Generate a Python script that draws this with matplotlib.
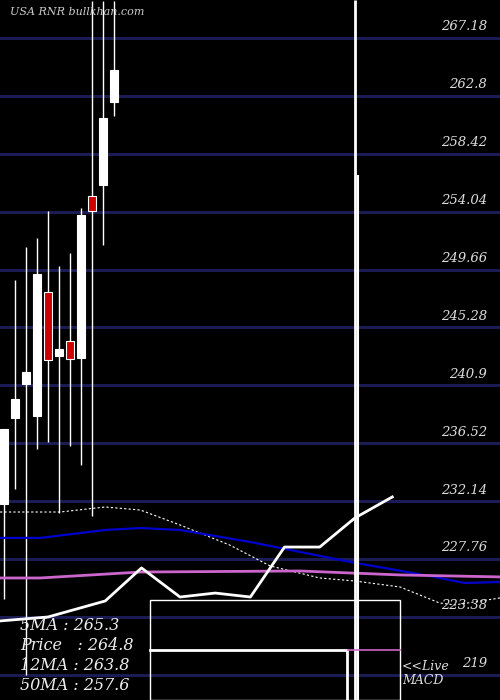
import matplotlib
matplotlib.use("Agg")
import matplotlib.pyplot as plt
from matplotlib.patches import Rectangle

levels = [267.18, 262.8, 258.42, 254.04, 249.66, 245.28, 240.9, 236.52, 232.14, 227.76, 223.38, 219]
opens  = [231.93, 238.43, 241.00, 238.58, 247.96, 243.12, 244.26, 242.97, 255.23, 256.06, 262.34]
closes = [237.60, 239.87, 241.91, 249.33, 242.82, 243.65, 242.90, 253.79, 254.09, 261.13, 264.76]
highs  = [237.60, 248.87, 251.37, 252.05, 254.09, 249.93, 250.91, 254.32, 270.0, 270.0, 270.0]
lows   = [224.74, 233.06, 218.99, 236.09, 236.62, 231.25, 236.31, 234.88, 231.02, 251.52, 261.28]

dot_x = [-0.36, 5.1, 9.2, 12.4, 16, 20.5, 24.2, 28.7, 31.9, 36, 39.6, 41, 45.1]
dot_y = [231.32, 231.32, 231.70, 231.47, 230.34, 228.83, 227.24, 226.33, 226.10, 225.65, 224.44, 224.29, 224.82]
blue_x = [-0.36, 3.3, 9.2, 12.4, 16, 22.4, 31.5, 38.7, 41.9, 45.1]
blue_y = [229.36, 229.36, 229.96, 230.11, 229.96, 229.05, 227.54, 226.48, 225.95, 226.03]
mag_x = [-0.36, 3.3, 12.4, 26.9, 36, 45.1]
mag_y = [226.33, 226.33, 226.78, 226.86, 226.56, 226.41]
wht_x = [-0.36, 4, 9.2, 12.5, 16, 19.2, 22.4, 25.5, 28.7, 31.9, 35.3]
wht_y = [223.08, 223.38, 224.59, 227.09, 224.89, 225.19, 224.89, 228.67, 228.67, 230.87, 232.46]
legend = ["5MA : 265.3", "Price   : 264.8", "12MA : 263.8", "50MA : 257.6"]

fig = plt.figure(figsize=(5, 7), dpi=100, facecolor="black")
ax = fig.add_axes([0, 0, 1, 1])
ax.set_facecolor("black")
ax.set_xlim(-4/11, 496/11)
ax.set_ylim(217.10, 270.05)
ax.axis("off")

for lv in levels:
    ax.axhline(lv, color="#1c1c55", lw=2.2, zorder=1)
    ax.text(43.9, lv + 0.35, f"{lv:g}", color="#dddddd", fontsize=9.5, family="DejaVu Serif",
            style="italic", ha="right", va="bottom", zorder=5)

for i, (o, c, h, l) in enumerate(zip(opens, closes, highs, lows)):
    ax.vlines(i, l, h, color="white", lw=1, zorder=3)
    col = "white" if c >= o else "#cc0000"
    ax.add_patch(Rectangle((i - 0.36, min(o, c)), 0.72, max(abs(c - o), 0.4),
                           facecolor=col, edgecolor="white", lw=0.8, zorder=4))

ax.plot(dot_x, dot_y, color="white", lw=0.8, ls=(0, (2, 2)), zorder=3)
ax.plot(blue_x, blue_y, color="#0000cc", lw=1.6, zorder=3)
ax.plot(mag_x, mag_y, color="#cc66cc", lw=2, zorder=3)
ax.plot(wht_x, wht_y, color="white", lw=2, zorder=3)

ax.vlines(31.9, 217.10, 270.05, color="white", lw=2, zorder=6)
ax.vlines(32.2, 217.10, 256.82, color="white", lw=1.5, zorder=6)

tr = fig.transFigure
def fx(px): return px / 500
def fy(py): return 1 - py / 700
fig.patches.append(Rectangle((fx(150), fy(700)), fx(250), 100/700, transform=tr,
                             facecolor="none", edgecolor="white", lw=1, zorder=7))
fig.lines.append(plt.Line2D([fx(150), fx(347), fx(347)], [fy(650), fy(650), fy(700)],
                            transform=tr, color="white", lw=2, zorder=8))
fig.lines.append(plt.Line2D([fx(348), fx(400)], [fy(650), fy(650)], transform=tr,
                            color="#cc66cc", lw=1.2, zorder=8))
fig.text(fx(402), fy(666), "<<Live", color="#dddddd", fontsize=9, family="DejaVu Serif",
         style="italic", va="center")
fig.text(fx(402), fy(681), "MACD", color="#dddddd", fontsize=9, family="DejaVu Serif",
         style="italic", va="center")
for k, t in enumerate(legend):
    fig.text(fx(20), fy(625 + 20 * k), t, color="#eeeeee", fontsize=11.5, family="DejaVu Serif",
             style="italic", va="center")
fig.text(fx(10), fy(12), "USA RNR bullkhan.com", color="#cccccc", fontsize=8,
         family="DejaVu Serif", style="italic", va="center")

fig.savefig("out.png", dpi=100, facecolor="black")
